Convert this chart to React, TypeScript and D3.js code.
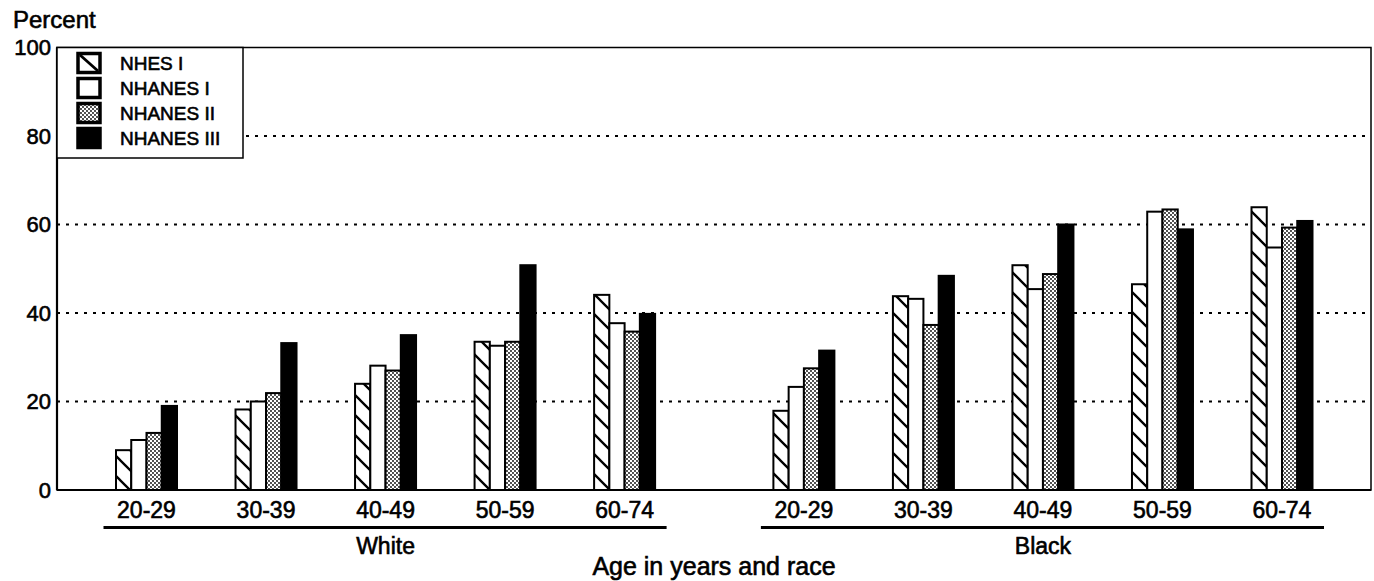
import * as d3 from 'd3';

const series = ['NHES I', 'NHANES I', 'NHANES II', 'NHANES III'];
const ageGroups = ['20-29', '30-39', '40-49', '50-59', '60-74'];
const races = ['White', 'Black'];

// percent values by age group, one list per survey
const whiteValues = [
  [9.0, 18.2, 24.0, 33.5, 44.1],
  [11.3, 20.0, 28.1, 32.6, 37.7],
  [12.9, 21.9, 27.0, 33.5, 35.8],
  [19.0, 33.2, 35.0, 50.8, 39.8],
];
const blackValues = [
  [17.9, 43.8, 50.8, 46.5, 63.9],
  [23.3, 43.2, 45.4, 62.9, 54.8],
  [27.5, 37.3, 48.8, 63.4, 59.3],
  [31.5, 48.4, 60.0, 58.9, 60.8],
];
const yTicks = [0, 20, 40, 60, 80, 100];
const gridTicks = [20, 40, 60, 80];

const W = 1374;
const H = 581;
const left = 57;
const right = 1371;
const font = '"Liberation Sans", Arial, Helvetica, sans-serif';

const y = d3.scaleLinear().domain([0, 100]).range([490, 47.5]);
// slot positions of the age groups along x (gap between the two races)
const slot = d3.scaleLinear().domain([0, 9.5]).range([146.5, 1282]);
const raceOffset = [0, 5.5];
const inner = d3.scaleBand<string>().domain(series).range([-30.5, 30.5]).paddingInner(0);

const fills = ['url(#hatch)', '#fff', 'url(#stipple)', '#000'];

// scanned-print look: slightly heavier glyphs
const txt = { stroke: '#000', strokeWidth: 0.6 };

export default function App() {
  const bars: { x: number; v: number; s: number; key: string }[] = [];
  races.forEach((race, r) => {
    const vals = r === 0 ? whiteValues : blackValues;
    ageGroups.forEach((ag, g) => {
      const cx = slot(g + raceOffset[r]);
      series.forEach((s, si) => {
        bars.push({ x: cx + (inner(s) ?? 0), v: vals[si][g], s: si, key: `${race}-${ag}-${s}` });
      });
    });
  });
  const bw = inner.bandwidth();

  return (
    <svg width={W} height={H} style={{ position: 'absolute', left: 0, top: 0, background: '#fff' }}
      fontFamily={font}>
      <defs>
        <pattern id="hatch" patternUnits="userSpaceOnUse" width={20} height={20}>
          <rect width={20} height={20} fill="#fff" />
          <path d="M0,0 L20,20 M18,-2 L22,2 M-2,18 L2,22" stroke="#000" strokeWidth={2.3} />
        </pattern>
        <pattern id="stipple" patternUnits="userSpaceOnUse" width={4} height={4}>
          <rect width={4} height={4} fill="#fff" />
          <circle cx={1} cy={1} r={0.9} fill="#000" />
          <circle cx={3} cy={3} r={0.9} fill="#000" />
        </pattern>
      </defs>

      {/* gridlines */}
      {gridTicks.map((t) => (
        <line key={t} x1={left} x2={right} y1={y(t)} y2={y(t)}
          stroke="#000" strokeWidth={2.2} strokeDasharray="3 6" />
      ))}

      {/* bars */}
      {bars.map((b) => (
        <rect key={b.key} x={b.x} y={y(b.v)} width={bw} height={y(0) - y(b.v)}
          fill={fills[b.s]} stroke="#000" strokeWidth={2} />
      ))}

      {/* frame */}
      <rect x={left} y={y(100)} width={right - left} height={y(0) - y(100)}
        fill="none" stroke="#000" strokeWidth={1.5} />
      <line x1={left} x2={left} y1={y(100)} y2={y(0)} stroke="#000" strokeWidth={2.2} />
      <line x1={left} x2={right} y1={y(0)} y2={y(0)} stroke="#000" strokeWidth={2} />

      {/* y tick labels */}
      {yTicks.map((t) => (
        <text key={t} x={51} y={y(t)} dy="0.36em" textAnchor="end" fontSize={22} {...txt}>{t}</text>
      ))}
      <text x={13} y={28} fontSize={24} {...txt}>Percent</text>

      {/* legend */}
      <rect x={left} y={y(100)} width={186} height={110.5} fill="#fff" stroke="#000" strokeWidth={1.5} />
      {series.map((s, i) => {
        const cy = 63 + i * 25;
        return (
          <g key={s}>
            <rect x={78} y={cy - 9.5} width={22} height={19}
              fill={i === 0 ? '#fff' : fills[i]} stroke="#000" strokeWidth={3.5} />
            {i === 0 && <line x1={80} y1={cy - 8} x2={98} y2={cy + 8} stroke="#000" strokeWidth={2.8} />}
            <text x={120} y={cy} dy="0.36em" fontSize={19} {...txt}>{s}</text>
          </g>
        );
      })}

      {/* x labels */}
      {races.map((race, r) => {
        const x0 = slot(raceOffset[r]);
        const x1 = slot(raceOffset[r] + ageGroups.length - 1);
        return (
          <g key={race}>
            {ageGroups.map((ag, g) => (
              <text key={ag} x={slot(g + raceOffset[r])} y={518} textAnchor="middle" fontSize={23} {...txt}>{ag}</text>
            ))}
            <line x1={x0 - 43} x2={x1 + 42} y1={527.5} y2={527.5} stroke="#000" strokeWidth={3} />
            <text x={(x0 + x1) / 2} y={554} textAnchor="middle" fontSize={23} {...txt}>{race}</text>
          </g>
        );
      })}
      <text x={(left + right) / 2} y={575} textAnchor="middle" fontSize={25} {...txt}>Age in years and race</text>
    </svg>
  );
}
